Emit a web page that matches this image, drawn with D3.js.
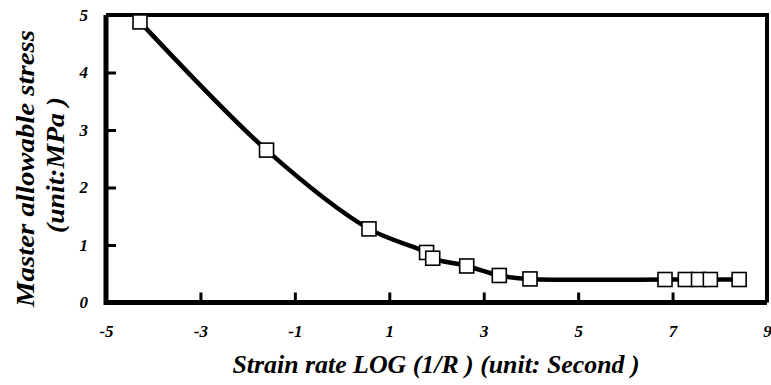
<!DOCTYPE html>
<html><head><meta charset="utf-8">
<script src="https://cdn.jsdelivr.net/npm/d3@7/dist/d3.min.js"></script>
<style>
html,body{margin:0;padding:0;background:#fff;}
svg{display:block;}
</style></head>
<body>
<script>
const strainLog = [-4.28, -1.60, 0.57, 1.79, 1.92, 2.64, 3.33, 3.98, 6.84, 7.27, 7.55, 7.80, 8.41];
const stress    = [4.88, 2.65, 1.28, 0.87, 0.77, 0.635, 0.47, 0.41, 0.40, 0.40, 0.40, 0.40, 0.40];
const xTicks = [-5, -3, -1, 1, 3, 5, 7, 9];
const yTicks = [0, 1, 2, 3, 4, 5];
const xTitle = "Strain rate LOG (1/R ) (unit: Second )";
const yTitle1 = "Master allowable stress";
const yTitle2 = "(unit:MPa )";

const FONT = "Liberation Serif";
const W = 771, H = 385;
const L = 106, R = 767, T = 15, B = 302.5;
const svg = d3.select("body").append("svg").attr("width", W).attr("height", H);

const x = d3.scaleLinear().domain([-5, 9]).range([L, R]);
const y = d3.scaleLinear().domain([0, 5]).range([B, T]);

function styleText(sel, size) {
  sel.attr("font-family", FONT).attr("font-weight", "bold").attr("font-style", "italic")
     .attr("font-size", size).attr("fill", "#000");
}

// frame
svg.append("path")
  .attr("d", `M${L},${T}H${R}V${B}`)
  .attr("fill", "none").attr("stroke", "#000").attr("stroke-width", 4);
svg.append("path")
  .attr("d", `M${L},${T}V${B}H${R}`)
  .attr("fill", "none").attr("stroke", "#000").attr("stroke-width", 5);

// x axis
const gx = svg.append("g").attr("transform", `translate(0,${B})`)
  .call(d3.axisBottom(x).tickValues(xTicks).tickFormat(d => String(d))
    .tickSizeInner(0).tickSizeOuter(0).tickPadding(22));
gx.select(".domain").remove();
gx.attr("font-family", FONT).attr("font-size", 17);
styleText(gx.selectAll("text"), 17);
gx.selectAll(".tick").filter(d => d !== -5 && d !== 9)
  .append("line").attr("y1", 0).attr("y2", -10).attr("stroke", "#000").attr("stroke-width", 3);

// y axis
const gy = svg.append("g").attr("transform", `translate(${L},0)`)
  .call(d3.axisLeft(y).tickValues(yTicks).tickFormat(d => String(d))
    .tickSizeInner(0).tickSizeOuter(0).tickPadding(18));
gy.select(".domain").remove();
gy.attr("font-family", FONT).attr("font-size", 17);
styleText(gy.selectAll("text"), 17);
gy.selectAll(".tick").filter(d => d !== 0 && d !== 5)
  .append("line").attr("x1", 0).attr("x2", 10).attr("stroke", "#000").attr("stroke-width", 3);

// curve
const data = strainLog.map((v, i) => ({x: v, y: stress[i]}));
const line = d3.line().x(d => x(d.x)).y(d => y(d.y)).curve(d3.curveCatmullRom.alpha(0.5));
svg.append("path").datum(data).attr("d", line)
  .attr("fill", "none").attr("stroke", "#000").attr("stroke-width", 4.5).attr("stroke-linejoin", "round");

// markers
const S = 14;
svg.selectAll("rect.m").data(data).enter().append("rect").attr("class", "m")
  .attr("x", d => x(d.x) - S / 2).attr("y", d => y(d.y) - S / 2)
  .attr("width", S).attr("height", S)
  .attr("fill", "#fff").attr("stroke", "#000").attr("stroke-width", 1.6);

// titles
styleText(svg.append("text").attr("x", 436).attr("y", 373).attr("text-anchor", "middle")
  .attr("textLength", 407).attr("lengthAdjust", "spacingAndGlyphs").text(xTitle), 26);
styleText(svg.append("text").attr("transform", `translate(34,168.5) rotate(-90)`).attr("text-anchor", "middle")
  .attr("textLength", 277).attr("lengthAdjust", "spacingAndGlyphs").text(yTitle1), 26);
styleText(svg.append("text").attr("transform", `translate(64,165) rotate(-90)`).attr("text-anchor", "middle")
  .attr("textLength", 136).attr("lengthAdjust", "spacingAndGlyphs").text(yTitle2), 26);
</script>
</body></html>
